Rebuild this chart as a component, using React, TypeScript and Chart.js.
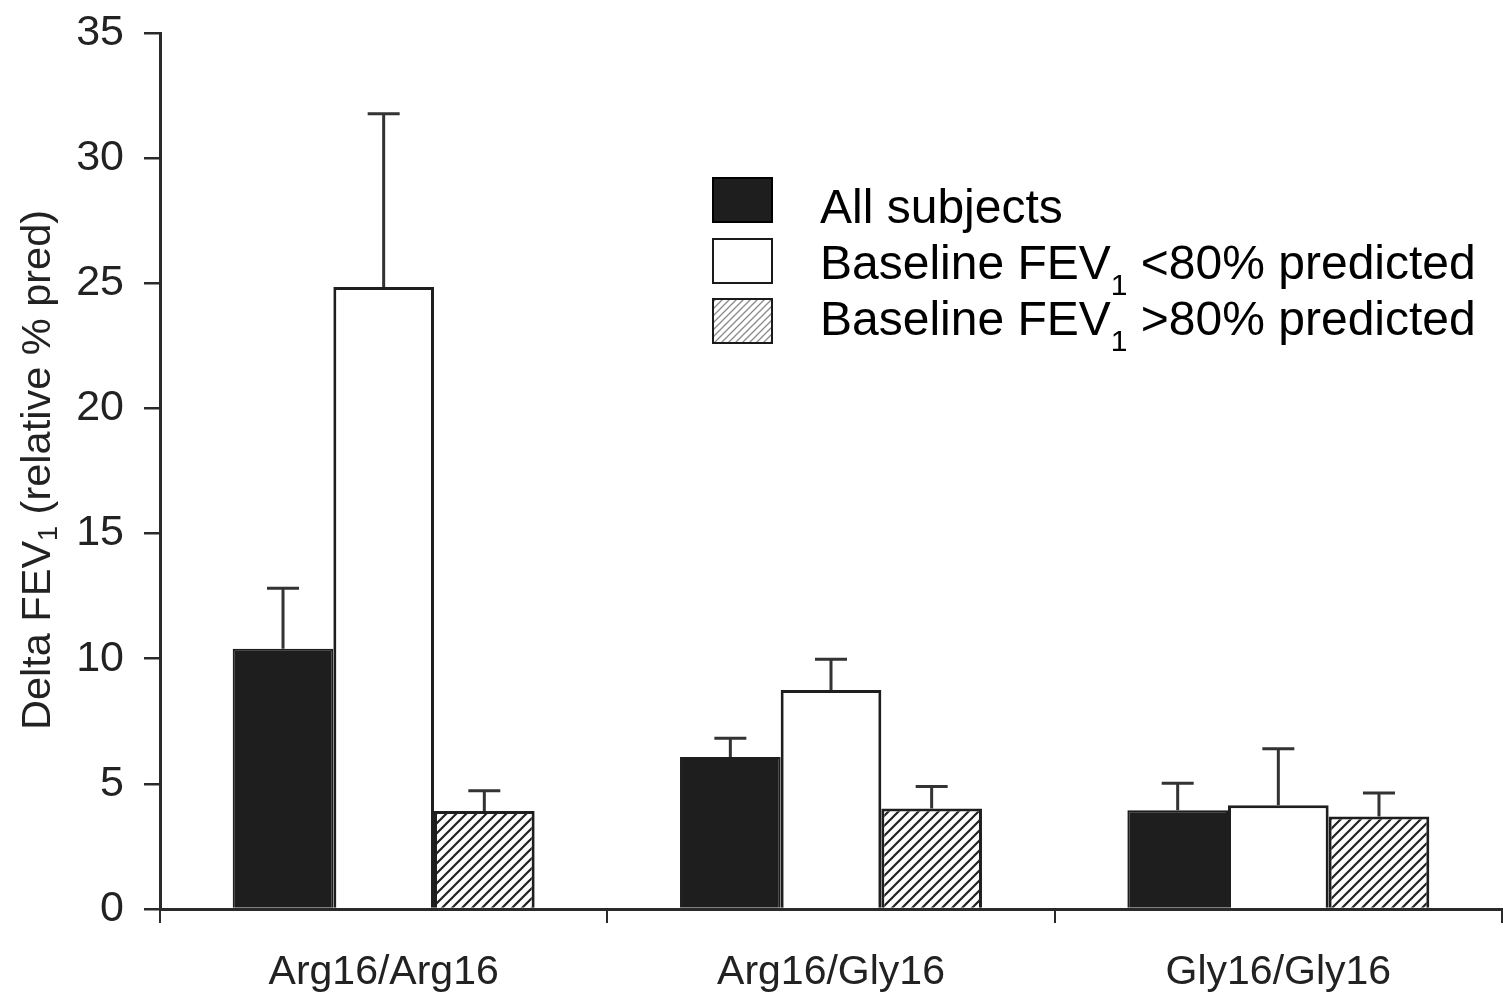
import React, { useEffect, useRef } from "react";
import { Chart, registerables } from "chart.js";

Chart.register(...registerables);

// Genotype groups on the x axis
const CATEGORIES = ["Arg16/Arg16", "Arg16/Gly16", "Gly16/Gly16"];

// Mean change in FEV1 (relative % predicted) and the upper error (SEM)
const ALL_SUBJECTS = [10.4, 6.07, 3.95];
const ALL_SUBJECTS_ERR = [2.42, 0.75, 1.07];
const BELOW_80 = [24.85, 8.75, 4.15];
const BELOW_80_ERR = [6.92, 1.23, 2.25];
const ABOVE_80 = [3.92, 4.02, 3.7];
const ABOVE_80_ERR = [0.8, 0.87, 0.93];

const Y_MIN = 0;
const Y_MAX = 35;
const Y_STEP = 5;

const FONT = "'Liberation Sans', Arial, Helvetica, sans-serif";
const INK = "#222222";

function makeHatch(
  ctx: CanvasRenderingContext2D,
  size: number,
  lineWidth: number,
  color: string
): CanvasPattern | string {
  const c = document.createElement("canvas");
  c.width = size;
  c.height = size;
  const g = c.getContext("2d");
  if (!g) return "#ffffff";
  g.fillStyle = "#ffffff";
  g.fillRect(0, 0, size, size);
  g.strokeStyle = color;
  g.lineWidth = lineWidth;
  g.lineCap = "square";
  g.beginPath();
  g.moveTo(0, size);
  g.lineTo(size, 0);
  g.moveTo(-size / 2, size / 2);
  g.lineTo(size / 2, -size / 2);
  g.moveTo(size / 2, size * 1.5);
  g.lineTo(size * 1.5, size / 2);
  g.stroke();
  return ctx.createPattern(c, "repeat") || "#ffffff";
}

// Draws a run of text pieces, some of them as subscripts, starting at (x, y) on the baseline
function drawRuns(
  ctx: CanvasRenderingContext2D,
  runs: { text: string; sub?: boolean }[],
  x: number,
  y: number,
  size: number,
  subSize: number,
  subShift: number
) {
  let cx = x;
  for (const r of runs) {
    ctx.font = `${r.sub ? subSize : size}px ${FONT}`;
    ctx.fillText(r.text, cx, r.sub ? y + subShift : y);
    cx += ctx.measureText(r.text).width;
  }
  return cx - x;
}

function measureRuns(
  ctx: CanvasRenderingContext2D,
  runs: { text: string; sub?: boolean }[],
  size: number,
  subSize: number
) {
  let w = 0;
  for (const r of runs) {
    ctx.font = `${r.sub ? subSize : size}px ${FONT}`;
    w += ctx.measureText(r.text).width;
  }
  return w;
}

const errorBarsPlugin = {
  id: "errorBars",
  afterDatasetsDraw(chart: any) {
    const { ctx } = chart;
    const yScale = chart.scales.y;
    ctx.save();
    ctx.strokeStyle = "#333333";
    ctx.lineWidth = 3;
    chart.data.datasets.forEach((ds: any, di: number) => {
      const meta = chart.getDatasetMeta(di);
      const errs: number[] = ds.errors || [];
      meta.data.forEach((bar: any, i: number) => {
        const v = ds.data[i];
        const e = errs[i];
        if (e == null) return;
        const yTop = yScale.getPixelForValue(v + e);
        const yBase = bar.y;
        ctx.beginPath();
        ctx.moveTo(bar.x, yBase);
        ctx.lineTo(bar.x, yTop);
        ctx.moveTo(bar.x - 16, yTop);
        ctx.lineTo(bar.x + 16, yTop);
        ctx.stroke();
      });
    });
    ctx.restore();
  },
};

const yTitlePlugin = {
  id: "yTitleSub",
  afterDraw(chart: any) {
    const { ctx } = chart;
    const runs = [
      { text: "Delta FEV" },
      { text: "1", sub: true },
      { text: " (relative % pred)" },
    ];
    const size = 41.5;
    const subSize = 27;
    const w = measureRuns(ctx, runs, size, subSize);
    ctx.save();
    ctx.translate(50, 470);
    ctx.rotate(-Math.PI / 2);
    ctx.fillStyle = INK;
    ctx.textAlign = "left";
    ctx.textBaseline = "alphabetic";
    drawRuns(ctx, runs, -w / 2, 0, size, subSize, 7);
    ctx.restore();
  },
};

const legendPlugin = {
  id: "subLegend",
  afterDraw(chart: any) {
    const { ctx } = chart;
    const items = [
      { runs: [{ text: "All subjects" }], baseline: 223, boxTop: 177 },
      {
        runs: [
          { text: "Baseline FEV" },
          { text: "1", sub: true },
          { text: " <80% predicted" },
        ],
        baseline: 279,
        boxTop: 238,
      },
      {
        runs: [
          { text: "Baseline FEV" },
          { text: "1", sub: true },
          { text: " >80% predicted" },
        ],
        baseline: 335,
        boxTop: 298,
      },
    ];
    const boxX = 712;
    const boxW = 61;
    const boxH = 46;
    const textX = 820;
    ctx.save();
    items.forEach((it, i) => {
      const ds = chart.data.datasets[i];
      const fill = ds.legendFill || ds.backgroundColor;
      ctx.fillStyle = fill;
      ctx.fillRect(boxX, it.boxTop, boxW, boxH);
      ctx.lineWidth = 2;
      ctx.strokeStyle = i === 0 ? "#000000" : "#1a1a1a";
      ctx.strokeRect(boxX + 1, it.boxTop + 1, boxW - 2, boxH - 2);
      ctx.fillStyle = "#000000";
      ctx.textAlign = "left";
      ctx.textBaseline = "alphabetic";
      drawRuns(ctx, it.runs, textX, it.baseline, 48, 30, 16);
    });
    ctx.restore();
  },
};

export default function App() {
  const canvasRef = useRef<HTMLCanvasElement | null>(null);

  useEffect(() => {
    const canvas = canvasRef.current;
    if (!canvas) return;
    const ctx = canvas.getContext("2d");
    if (!ctx) return;

    const barHatch = makeHatch(ctx, 10, 2.2, "#222222");
    const legendHatch = makeHatch(ctx, 7, 1.3, "#8a8a8a");

    const chart = new Chart(canvas, {
      type: "bar",
      data: {
        labels: CATEGORIES,
        datasets: [
          {
            label: "All subjects",
            data: ALL_SUBJECTS,
            errors: ALL_SUBJECTS_ERR,
            backgroundColor: "#1e1e1e",
            borderColor: "#1e1e1e",
            borderWidth: 2,
          } as any,
          {
            label: "Baseline FEV1 <80% predicted",
            data: BELOW_80,
            errors: BELOW_80_ERR,
            backgroundColor: "#ffffff",
            borderColor: "#1e1e1e",
            borderWidth: 3,
          } as any,
          {
            label: "Baseline FEV1 >80% predicted",
            data: ABOVE_80,
            errors: ABOVE_80_ERR,
            backgroundColor: barHatch,
            legendFill: legendHatch,
            borderColor: "#1e1e1e",
            borderWidth: 3,
          } as any,
        ],
      },
      options: {
        responsive: false,
        animation: false,
        devicePixelRatio: 1,
        layout: { padding: { top: 33, right: 1, left: 0, bottom: 0 } },
        datasets: {
          bar: { categoryPercentage: 0.675, barPercentage: 1.0 },
        },
        plugins: {
          legend: { display: false },
          tooltip: { enabled: false },
          title: { display: false },
        },
        scales: {
          x: {
            grid: {
              display: true,
              drawOnChartArea: false,
              drawTicks: true,
              tickLength: 14,
              offset: true,
              color: "#2a2a2a",
              lineWidth: 2,
            },
            border: { display: true, color: "#2a2a2a", width: 3 },
            ticks: {
              color: INK,
              font: { family: FONT, size: 41 },
              padding: 25,
              maxRotation: 0,
            },
            afterFit(scale: any) {
              scale.height = 90;
              scale.paddingLeft = 0;
              scale.paddingRight = 0;
            },
          },
          y: {
            min: Y_MIN,
            max: Y_MAX,
            grid: {
              display: true,
              drawOnChartArea: false,
              drawTicks: true,
              tickLength: 16,
              color: "#2a2a2a",
              lineWidth: 2.5,
            },
            border: { display: true, color: "#2a2a2a", width: 3 },
            ticks: {
              stepSize: Y_STEP,
              color: INK,
              font: { family: FONT, size: 43 },
              padding: 20,
            },
            afterFit(scale: any) {
              scale.width = 160;
              scale.paddingTop = 0;
              scale.paddingBottom = 0;
            },
          },
        },
      },
      plugins: [errorBarsPlugin, yTitlePlugin, legendPlugin],
    });

    return () => {
      chart.destroy();
    };
  }, []);

  return (
    <div
      style={{
        position: "absolute",
        left: 0,
        top: 0,
        width: 1503,
        height: 999,
        background: "#ffffff",
      }}
    >
      <canvas ref={canvasRef} width={1503} height={999} />
    </div>
  );
}
